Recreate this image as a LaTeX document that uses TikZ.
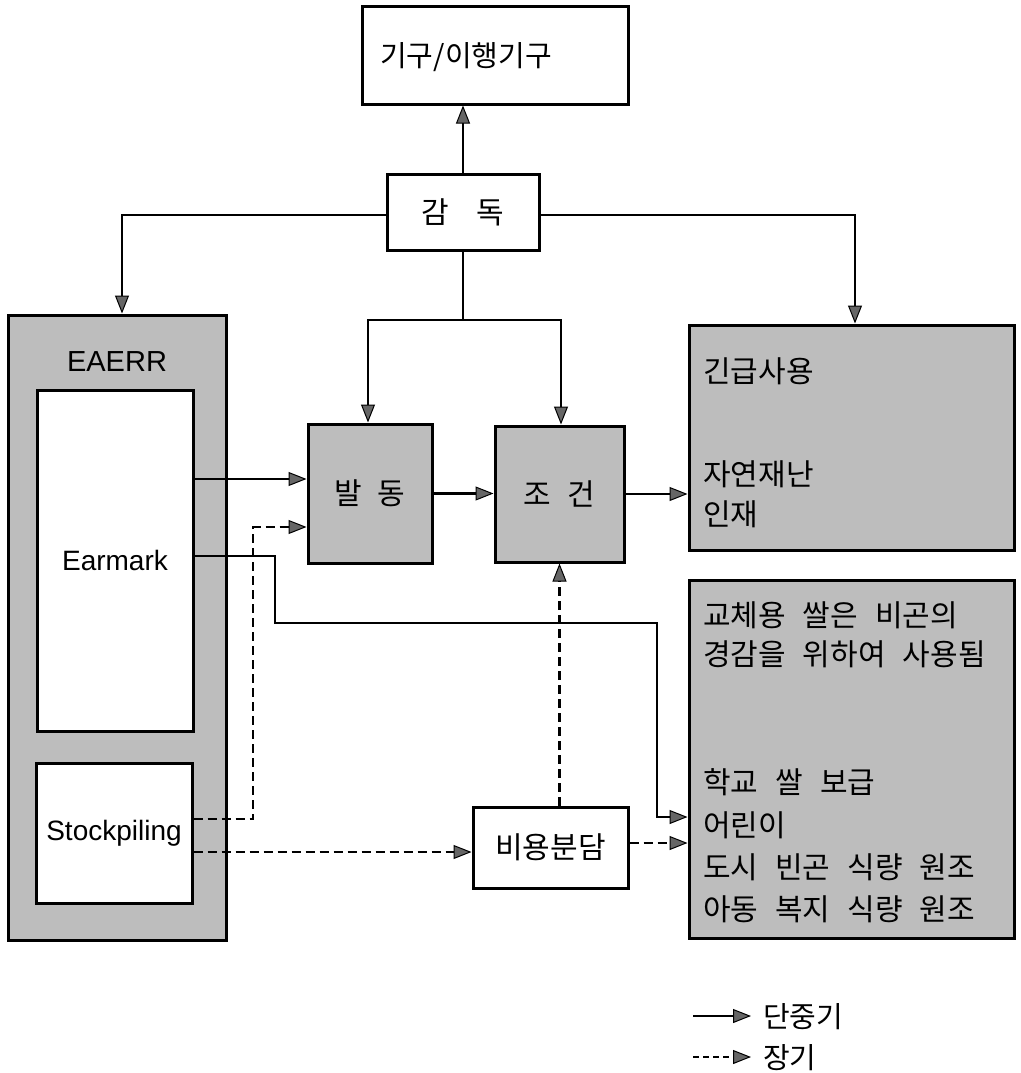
\documentclass[tikz,border=0pt]{standalone}
\usepackage{fontspec}
\setmainfont{Liberation Sans}
\newfontfamily\kr{Noto Sans CJK KR}
\usetikzlibrary{arrows.meta}
\newcommand{\wsp}{\hspace{17pt}}
\begin{document}
\begin{tikzpicture}[x=1pt,y=-1pt,
  box/.style={draw, line width=3pt, inner sep=0pt},
  shadedbox/.style={box, fill=black!26},
  whitebox/.style={box, fill=white},
  con/.style={line width=2.5pt, -{Triangle[length=18pt,width=14pt,fill=black!60,line width=1pt]}},
  dcon/.style={con, dash pattern=on 9pt off 5pt},
  plainline/.style={line width=2.5pt},
  midkr/.style={font=\kr\fontsize{30}{34}\selectfont},
  rtext/.style={anchor=west, inner sep=0pt, font=\kr\fontsize{30}{35}\selectfont},
  legtext/.style={anchor=west, inner sep=0pt, font=\kr\fontsize{29}{34}\selectfont},
  entext/.style={font=\fontsize{28}{33}\selectfont}
]
\useasboundingbox (0,0) rectangle (1020,1073);
\fill[white] (0,0) rectangle (1020,1073);

% boxes
\node[box, minimum width=266pt, minimum height=97pt] (top) at (495,55.5) {};
\node[inner sep=0pt, font=\kr\fontsize{29}{34}\selectfont] (toptxt) at (466,57) {기구/이행기구};
\node[whitebox, minimum width=152pt, minimum height=76pt, midkr] (gamdok) at (463,212) {감\hspace{28pt}독};

\node[shadedbox, minimum width=218pt, minimum height=625pt] (eaerr) at (117,627.5) {};
\node[inner sep=0pt, font=\fontsize{29}{34}\selectfont] (eaerrtxt) at (117,362) {EAERR};
\node[whitebox, minimum width=156pt, minimum height=341pt, entext] (earmark) at (115,560.5) {Earmark};
\node[whitebox, minimum width=156pt, minimum height=140pt, entext] (stock) at (114,833) {Stockpiling};

\node[shadedbox, minimum width=124pt, minimum height=139pt, midkr] (baldong) at (370,493.5) {발\hspace{16pt}동};
\node[shadedbox, minimum width=129pt, minimum height=136pt, midkr] (jogeon) at (559.5,494) {조\hspace{16pt}건};

\node[shadedbox, minimum width=325pt, minimum height=225pt] (urgent) at (851.5,437.5) {};
\node[shadedbox, minimum width=325pt, minimum height=358pt] (lower) at (851.5,759) {};
\node[whitebox, minimum width=155pt, minimum height=81pt, font=\kr\fontsize{30}{35}\selectfont] (cost) at (550.5,847.5) {비용분담};

% texts in right boxes
\node[rtext] (u1) at (703,371) {긴급사용};
\node[rtext] (u2) at (703,474) {자연재난};
\node[rtext] (u3) at (703,514) {인재};
\node[rtext] (w1) at (703,615) {교체용\wsp 쌀은\wsp 비곤의};
\node[rtext] (w2) at (703,654) {경감을\wsp 위하여\wsp 사용됨};
\node[rtext] (w3) at (703,782) {학교\wsp 쌀\wsp 보급};
\node[rtext] (w4) at (703,825) {어린이};
\node[rtext] (w5) at (703,867) {도시\wsp 빈곤\wsp 식량\wsp 원조};
\node[rtext] (w6) at (703,909) {아동\wsp 복지\wsp 식량\wsp 원조};

% connectors from supervision
\draw[con] (gamdok.north) -- (gamdok.north |- top.south);
\draw[con] ([yshift=-3pt]gamdok.west) -| ([xshift=5pt]eaerr.north);
\draw[con] ([yshift=-3pt]gamdok.east) -| ([xshift=3.5pt]urgent.north);
\coordinate (split) at (463,320);
\draw[plainline] (gamdok.south) -- (split);
\draw[con] (split) -| ([xshift=-2pt]baldong.north);
\draw[con] (split) -| ([xshift=1.5pt]jogeon.north);

% earmark to trigger
\coordinate (b1) at ([yshift=14.5pt]baldong.west);
\draw[con] (b1 -| earmark.east) -- (b1);

% stockpiling to trigger (dashed)
\coordinate (b2) at ([yshift=-33.5pt]baldong.west);
\coordinate (s1) at ([yshift=14pt]stock.east);
\coordinate (bend1) at (253,527);
\draw[dcon] (s1) -| (bend1) -- (b2);

% earmark to lower box
\coordinate (e2) at ([yshift=4.5pt]earmark.east);
\coordinate (k1) at (275,623);
\coordinate (k2) at (657,817);
\coordinate (l1) at ([yshift=-58pt]lower.west);
\draw[con] (e2) -| (k1) -| (k2) -- (l1);

% stockpiling to cost sharing
\coordinate (c1) at ([yshift=-4.5pt]cost.west);
\draw[dcon] (c1 -| stock.east) -- (c1);
\coordinate (c2) at ([yshift=4.5pt]cost.east);
\draw[dcon] (c2) -- (c2 -| lower.west);
\draw[dcon] (cost.north -| jogeon.south) -- (jogeon.south);

% chain
\draw[con] (baldong.east) -- (baldong.east -| jogeon.west);
\draw[con] (jogeon.east) -- (jogeon.east -| urgent.west);

% legend
\node[legtext] (lgt1) at (763,1017) {단중기};
\node[legtext] (lgt2) at (763,1058) {장기};
\coordinate (lg1) at (693,1016);
\coordinate (lg1e) at (751,1016);
\coordinate (lg2) at (693,1057);
\coordinate (lg2e) at (751,1057);
\draw[con] (lg1) -- (lg1e);
\draw[con, dash pattern=on 6pt off 4pt] (lg2) -- (lg2e);
\end{tikzpicture}
\end{document}
